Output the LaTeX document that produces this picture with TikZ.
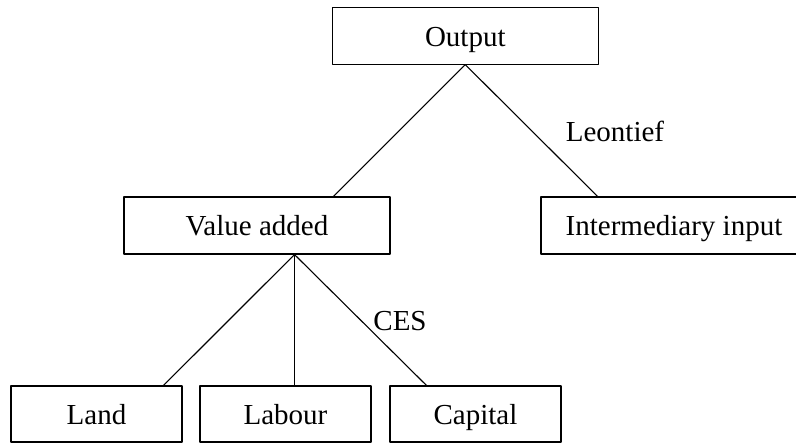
\documentclass[tikz,border=0pt]{standalone}
\usepackage{fontspec}
\setmainfont{Liberation Serif}
\begin{document}
\begin{tikzpicture}[x=1pt,y=-1pt, font=\fontsize{29}{33}\selectfont, line join=round, line width=1.1pt]
			\tikzset{box/.style={draw, minimum width=266pt, minimum height=57pt, inner sep=0pt, text height=21pt, text depth=0pt},
				sbox/.style={box, minimum width=171pt, minimum height=56pt}}
			\useasboundingbox (0,0) rectangle (796,443);
			\clip (0,0) rectangle (796,443);
			\node[box] (out) at (465.3,35.6) {Output};
			\node[box] (va) at (257,225.5) {Value added};
			\node[box] (ii) at (674,225.5) {Intermediary input};
			\node[sbox] (land) at (96.5,414) {Land};
			\node[sbox] (lab) at (285.5,414) {Labour};
			\node[sbox] (cap) at (475.5,414) {Capital};
			\draw (out.south)--([xshift=76.5pt]va.north);
			\draw (out.south)--([xshift=-76.4pt]ii.north);
			\coordinate (vs) at ([xshift=37.5pt]va.south);
			\draw (vs)--([xshift=67pt]land.north);
			\draw (vs)--([xshift=9pt]lab.north);
			\draw (vs)--([xshift=-49pt]cap.north);
			\node (leon) at (615,131) {Leontief};
			\node (ces) at (400,321) {CES};
			\end{tikzpicture}
\end{document}
